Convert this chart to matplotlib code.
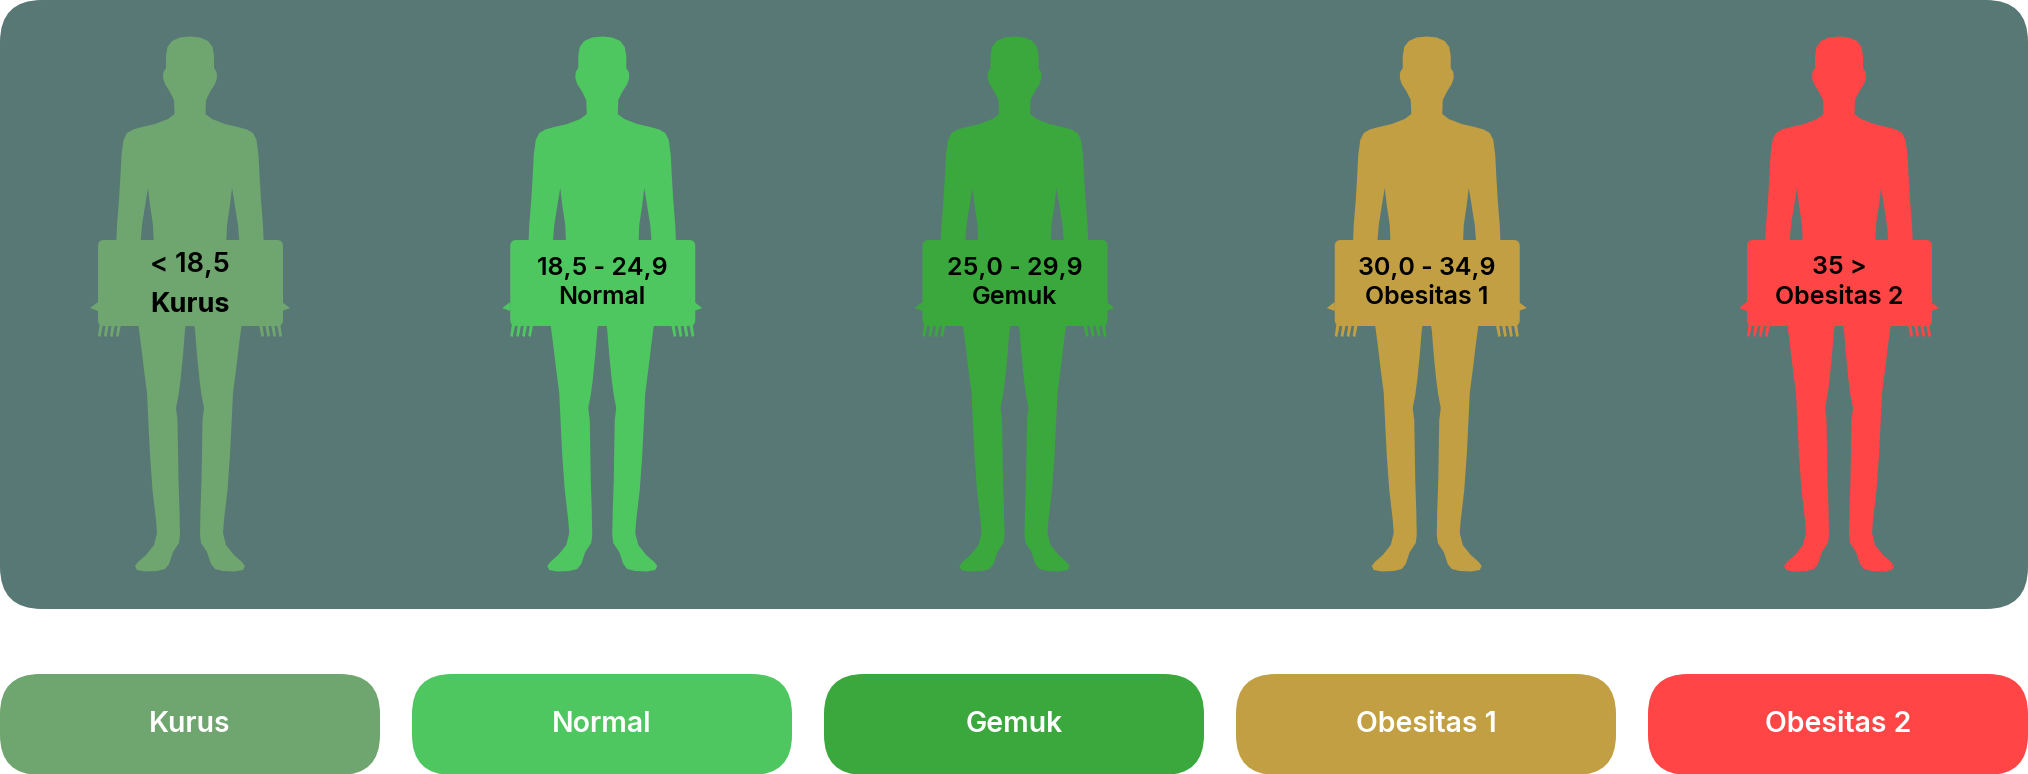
import matplotlib
matplotlib.use("Agg")
import matplotlib.pyplot as plt
from matplotlib.patches import Polygon, FancyBboxPatch

# kategorie BMI
categories = ["Kurus", "Normal", "Gemuk", "Obesitas 1", "Obesitas 2"]
ranges = ["< 18,5", "18,5 - 24,9", "25,0 - 29,9", "30,0 - 34,9", "35 >"]
colors = ["#6FA56E", "#4EC760", "#3BA83E", "#C19F42", "#FF4545"]

W, H = 2028, 774
panel_color = "#587876"

# sylwetka: lewa połowa konturu (dx od środka, y w pikselach od góry)
half = [
    (0, 36.5), (-10, 37.5), (-18, 41), (-22.5, 47), (-24, 56), (-24, 68),
    (-26.5, 72), (-27, 78), (-25, 84), (-20, 92), (-16, 100), (-15.5, 114),
    (-22, 119), (-35, 124), (-48, 127), (-57, 129.5), (-63, 133), (-66.5, 140),
    (-68.5, 155), (-69.5, 175), (-71, 200), (-73, 225), (-74, 250),
    (-50, 250), (-48, 225), (-44, 200), (-42, 188), (-40, 205), (-37, 225),
    (-36, 250), (-51.5, 326), (-49, 345), (-46, 370), (-43, 393), (-41.5, 425),
    (-40, 455), (-37.5, 490), (-34, 520), (-33, 533), (-36, 545), (-44, 555),
    (-52, 562), (-55, 566), (-53, 570), (-45, 571.5), (-33, 571), (-25, 569),
    (-21, 564), (-17, 552), (-11, 543), (-10, 535), (-10.5, 510), (-11.5, 480),
    (-12, 450), (-12.5, 420), (-14, 408), (-11.5, 395), (-9.5, 380), (-7, 355),
    (-5, 330), (-3, 318), (0, 314),
]
outline = half + [(-x, y) for x, y in reversed(half)]

fig = plt.figure(figsize=(W / 100, H / 100), dpi=100)
ax = fig.add_axes([0, 0, 1, 1])
ax.set_xlim(0, W)
ax.set_ylim(H, 0)
ax.axis("off")

# tło panelu
ax.add_patch(FancyBboxPatch((0, 0), W, 609, boxstyle="round,pad=0,rounding_size=42",
                            fc=panel_color, ec="none"))

step = 412
for i, (cat, rng, col) in enumerate(zip(categories, ranges, colors)):
    cx = 190 + step * i + 0.25 * i
    ax.add_patch(Polygon([(cx + x, y) for x, y in outline], closed=True, fc=col, ec="none"))
    # kciuki i palce
    for s in (-1, 1):
        ax.add_patch(Polygon([(cx + s * 92, 302), (cx + s * 100, 308), (cx + s * 92, 311)],
                             closed=True, fc=col, ec="none"))
        for k in range(4):
            b = -90 + 6 * k
            ax.add_patch(Polygon([(cx + s * b, 322), (cx + s * (b + 3.5), 322),
                                  (cx + s * (b + 0.5), 337), (cx + s * (b - 2), 336)],
                                 closed=True, fc=col, ec="none"))
    # tabliczka z opisem
    ax.add_patch(FancyBboxPatch((cx - 92, 240), 185, 86, boxstyle="round,pad=0,rounding_size=6",
                                fc=col, ec="none"))
    if i == 0:
        ax.text(cx, 265, rng, ha="center", va="center", fontsize=19.5, family="Inter",
                weight="semibold", color="black")
        ax.text(cx, 305, cat, ha="center", va="center", fontsize=19.5, family="Inter",
                weight="bold", color="black")
    else:
        ax.text(cx, 268, rng, ha="center", va="center", fontsize=18, family="Inter",
                weight="semibold", color="black")
        ax.text(cx, 298, cat, ha="center", va="center", fontsize=18, family="Inter",
                weight="semibold", color="black")

    # przycisk na dole
    bx = step * i
    ax.add_patch(FancyBboxPatch((bx, 674), 380, 101, boxstyle="round,pad=0,rounding_size=40",
                                fc=col, ec="none"))
    ax.text(bx + 190, 725, cat, ha="center", va="center", fontsize=20.5, family="Inter",
            weight="semibold", color="white")

fig.savefig("out.png", dpi=100, facecolor="white")
